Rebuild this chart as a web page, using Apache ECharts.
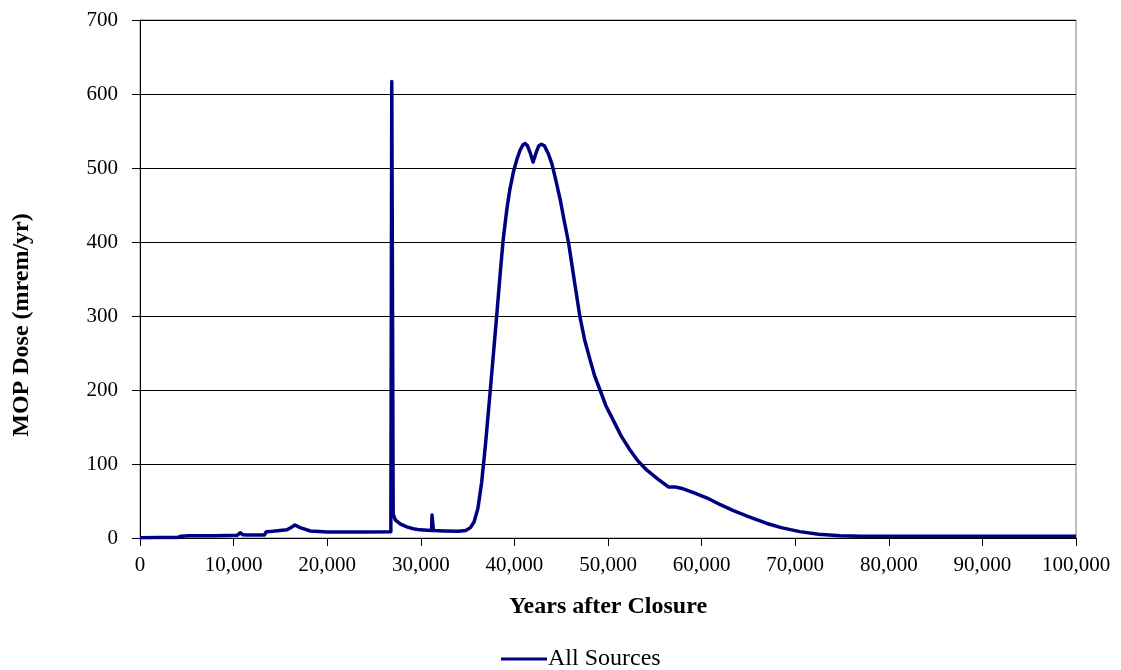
<!DOCTYPE html>
<html>
<head>
<meta charset="utf-8">
<script src="https://cdn.jsdelivr.net/npm/echarts@6/dist/echarts.min.js"></script>
<style>
  html, body { margin: 0; padding: 0; background: #fff; }
  #chart { width: 1121px; height: 670px; }
</style>
</head>
<body>
<div id="chart"></div>
<script>
// Dose history, all sources (years after closure vs. mrem/yr)
const years = [
  0, 2000, 4000, 4400, 5200, 8000, 10400, 10700, 11000, 11400, 13300, 13500,
  14200, 15700, 16100, 16550, 17100, 18200, 20000, 24000, 26800, 26850,
  26900, 26950, 27050, 27300, 27800, 28500, 29200, 29900, 31150, 31200,
  31300, 31350, 32500, 34000, 34800, 35300, 35700, 36100, 36500, 36900,
  37400, 37800, 38100, 38500, 38800, 39200, 39500, 39900, 40250, 40600,
  40900, 41150, 41400, 41700, 42000, 42300, 42600, 42900, 43200, 43600,
  44000, 44400, 44900, 45300, 45800, 46400, 47000, 47500, 48100, 48600,
  49150, 49800, 50570, 51400, 52350, 53200, 54130, 55300, 56450, 57200,
  57900, 59200, 60600, 62000, 63400, 65000, 66900, 68500, 70500, 72500,
  74800, 77000, 85000, 92000, 100000
];
const dose = [
  0.5, 0.6, 0.8, 2.5, 3, 3.2, 3.8, 7, 4.5, 4, 4.2, 8.5,
  9, 11, 14, 17.5, 14, 9.5, 8.2, 8.2, 8.5, 8.6,
  617, 617, 32, 24, 19, 15, 12.5, 11, 10, 31,
  31, 10, 9.6, 9.2, 10, 14, 22, 40, 75, 125,
  196, 255, 299, 360, 403, 445, 470, 495, 511, 524,
  531, 533, 530, 520, 508, 520, 530, 532, 530, 520,
  506, 485, 457, 430, 398, 348, 299, 268, 240, 218,
  200, 178, 159, 138, 119, 104, 92, 80, 69, 69,
  67, 61, 54, 45, 37, 29, 20, 14, 8.6, 5,
  3, 2.5, 2.5, 2.4, 2.2
];
const seriesName = 'All Sources';
const xTitle = 'Years after Closure';
const yTitle = 'MOP Dose (mrem/yr)';

const points = years.map((y, i) => [y, dose[i]]);
const serif = '"Liberation Serif", "Times New Roman", serif';

const chart = echarts.init(document.getElementById('chart'), null, { renderer: 'canvas' });
chart.setOption({
  animation: false,
  backgroundColor: '#ffffff',
  grid: {
    left: 140, right: 45, top: 20, bottom: 132,
    outerBoundsMode: 'none',
    show: true, borderColor: '#808080', borderWidth: 1
  },
  // vertical y-axis title, placed a little below the plot's middle
  graphic: [{
    type: 'text',
    x: 22, y: 325,
    rotation: Math.PI / 2,
    style: {
      text: yTitle,
      fontFamily: serif, fontSize: 24, fontWeight: 'bold', fill: '#000',
      align: 'center', verticalAlign: 'middle'
    }
  }],
  legend: {
    top: 642, left: 496,
    itemWidth: 46, itemHeight: 14, itemGap: 4,
    icon: 'path://M0,5.5 L46,5.5 L46,8.5 L0,8.5 Z',
    textStyle: { fontFamily: serif, fontSize: 24, color: '#000', padding: [0, 0, 0, -4] },
    data: [seriesName]
  },
  xAxis: {
    type: 'value', min: 0, max: 100000, interval: 10000,
    name: xTitle, nameLocation: 'middle', nameGap: 57,
    nameTextStyle: { fontFamily: serif, fontSize: 24, fontWeight: 'bold', color: '#000' },
    axisLine: { lineStyle: { color: '#000', width: 1 } },
    axisTick: { show: true, inside: false, length: 8, lineStyle: { color: '#000' } },
    axisLabel: {
      fontFamily: serif, fontSize: 21, color: '#000', margin: 17,
      formatter: v => v.toLocaleString('en-US')
    },
    splitLine: { show: false }
  },
  yAxis: {
    type: 'value', min: 0, max: 700, interval: 100,
    axisLine: { show: true, lineStyle: { color: '#000', width: 1 } },
    axisTick: { show: true, inside: false, length: 8, lineStyle: { color: '#000' } },
    axisLabel: { fontFamily: serif, fontSize: 21, color: '#000', margin: 22 },
    splitLine: { show: true, lineStyle: { color: '#000', width: 1 } }
  },
  series: [{
    name: seriesName,
    type: 'line',
    data: points,
    showSymbol: false,
    smooth: false,
    lineStyle: { color: '#000080', width: 3.5, join: 'round' },
    itemStyle: { color: '#000080' }
  }]
});
</script>
</body>
</html>
